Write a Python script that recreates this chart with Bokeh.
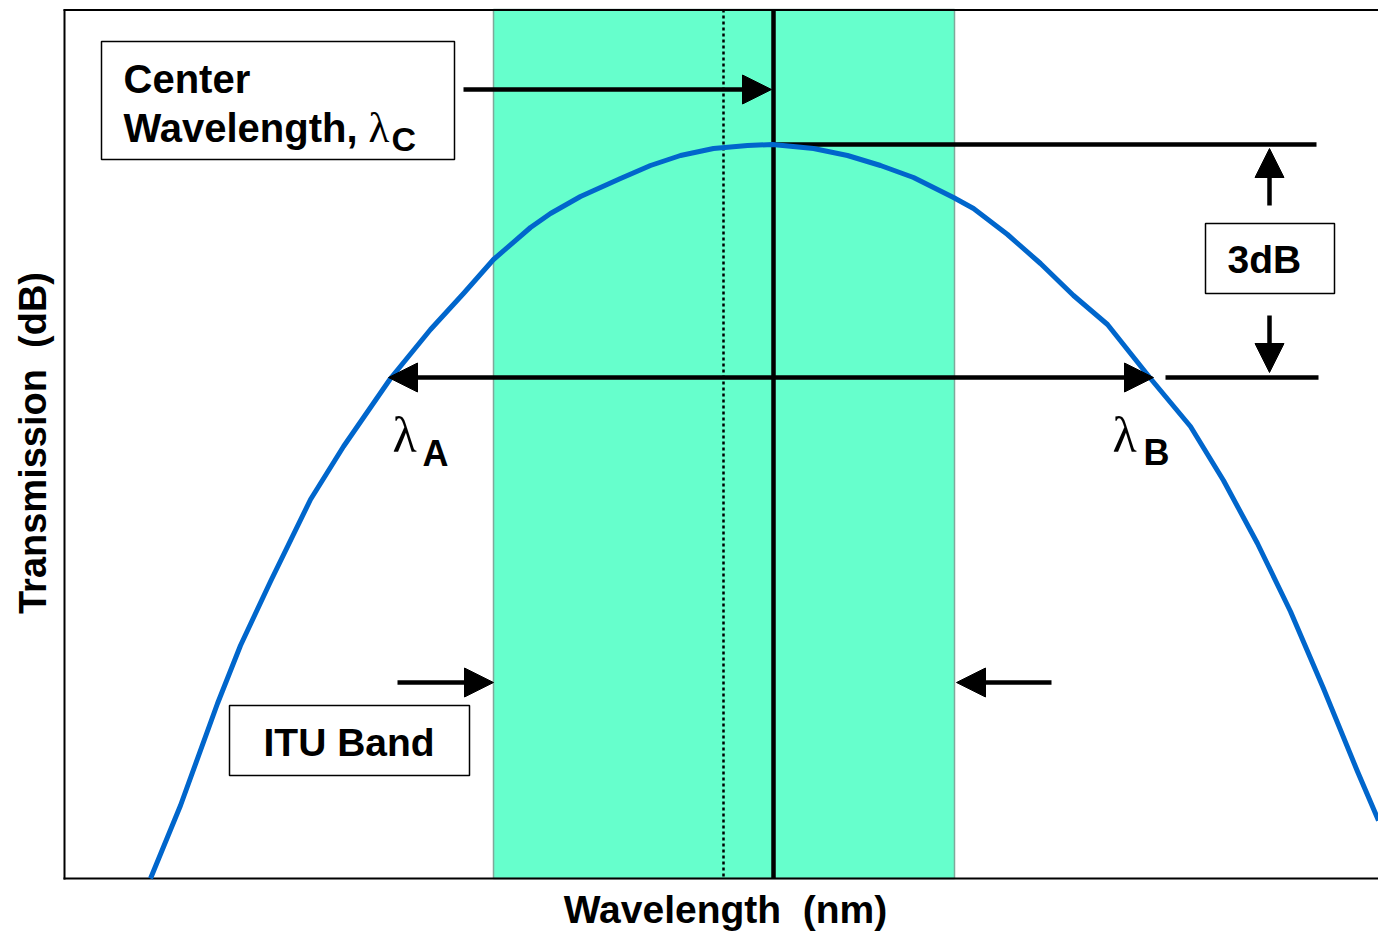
from bokeh.plotting import figure
from bokeh.models import Range1d, Arrow, NormalHead
from bokeh.core.properties import value
from bokeh.embed import file_html
from bokeh.resources import INLINE

# ---- data (diagram coordinates) ----
curve_x = [150, 180, 217, 240, 270, 310, 343, 390, 430, 463, 493, 530, 550, 580, 620, 650,
           680, 713, 747, 772, 813, 847, 880, 913, 953, 973, 1007, 1040, 1073, 1107, 1150,
           1190, 1223, 1257, 1290, 1323, 1357, 1378]
curve_y = [878, 805, 703, 645, 581, 499, 446, 378, 329, 293, 259, 227, 213, 196, 178, 165,
           155, 148, 145, 144, 148, 155, 165, 177, 197, 208, 234, 263, 295, 324, 378,
           426, 480, 543, 611, 688, 771, 820]

itu_band = [493, 954]
dotted_x = 723
center_x = 773
peak_y = 144
half_y = 377
lambda_a = 388
lambda_b = 1153

x_title = "Wavelength \u00a0(nm)"
y_title = "Transmission \u00a0(dB)"

# plotting box of the diagram
BOX_L, BOX_R, BOX_T, BOX_B = 63, 1378, 9, 878
FONT = "Liberation Sans"

p = figure(width=1378, height=931, output_backend="svg", toolbar_location=None,
           x_range=Range1d(0, 1378), y_range=Range1d(931, 0),
           x_axis_location=None, y_axis_location=None,
           min_border_left=0, min_border_right=0, min_border_top=0, min_border_bottom=0)
p.outline_line_color = None
p.grid.visible = False
p.background_fill_color = "white"
p.border_fill_color = "white"

# ITU band
p.quad(left=[itu_band[0]], right=[itu_band[1]], bottom=[BOX_B], top=[BOX_T],
       fill_color="#66FFCC", line_color="#7FA89A", line_width=1.5)

# box borders (top, left, bottom)
p.segment(x0=[BOX_L, BOX_L + 1, BOX_L], y0=[BOX_T + 0.5, BOX_T, BOX_B],
          x1=[BOX_R, BOX_L + 1, BOX_R], y1=[BOX_T + 0.5, BOX_B + 1, BOX_B],
          line_color="black", line_width=2)

# dotted and solid verticals
p.segment(x0=[dotted_x], y0=[BOX_T], x1=[dotted_x], y1=[BOX_B],
          line_color="black", line_width=2.5, line_dash="3 3")
p.segment(x0=[center_x], y0=[BOX_T], x1=[center_x], y1=[BOX_B],
          line_color="black", line_width=4.5)

# horizontal reference lines
p.segment(x0=[center_x, 1165], y0=[peak_y, half_y], x1=[1316, 1318], y1=[peak_y, half_y],
          line_color="black", line_width=4.5)

# curve
p.line(curve_x, curve_y, line_color="#0066CC", line_width=5, line_join="round")

# boxes
p.quad(left=[101, 1205, 229], right=[454, 1334, 469], top=[41, 223, 705], bottom=[159, 293, 775],
       fill_color="white", line_color="black", line_width=1.5)

def head():
    return NormalHead(size=29, fill_color="black", line_color="black", line_width=1)

def arrow(x0, y0, x1, y1, both=False):
    p.add_layout(Arrow(start=head() if both else None, end=head(),
                       x_start=x0, y_start=y0, x_end=x1, y_end=y1,
                       line_color="black", line_width=4.5))

arrow(463, 89, center_x - 2, 89)
arrow(lambda_a, half_y, lambda_b, half_y, both=True)
arrow(1269, 205, 1269, 148)
arrow(1269, 315, 1269, 372)
arrow(397, 682, itu_band[0], 682)
arrow(1051, 682, 956, 682)

# texts
def txt(xs, ys, texts, size, font=FONT, style="bold", align="left"):
    p.text(x=xs, y=ys, text=texts, text_font=value(font), text_font_style=style,
           text_font_size=f"{size}px", text_color="black",
           text_baseline="alphabetic", text_align=align, y_offset=-0.35 * size)

txt([123, 123], [92, 141], ["Center", "Wavelength,"], 40)
txt([1227, 263], [273, 756], ["3dB", "ITU Band"], 39)
txt([368], [142], ["λ"], 43, font="Liberation Serif", style="normal")
txt([392, 1112], [452, 452], ["λ", "λ"], 50, font="Liberation Serif", style="normal")
txt([391], [150], ["C"], 34)
txt([422, 1143], [466, 465], ["A", "B"], 36)
txt([725], [923], [x_title], 39, align="center")

# rotated y title
p.text(x=[32], y=[442.5], text=[y_title], angle=90, angle_units="deg",
       text_font=value(FONT), text_font_style="bold", text_font_size="38px",
       text_color="black", text_baseline="middle", text_align="center")

open("out.html", "w").write(file_html(p, INLINE))
